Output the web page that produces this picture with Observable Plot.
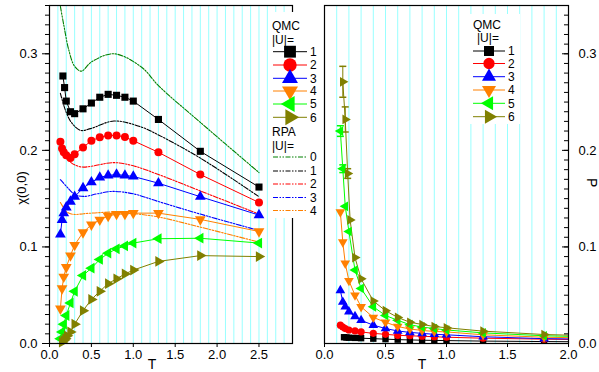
<!DOCTYPE html>
<html><head><meta charset="utf-8">
<script src="https://cdn.jsdelivr.net/npm/d3@7"></script>
<script src="https://cdn.jsdelivr.net/npm/@observablehq/plot@0.6"></script>
<style>
html,body{margin:0;padding:0;background:#fff;}
#wrap{position:relative;width:599px;height:372px;overflow:hidden;font-family:"Liberation Sans",Arial,sans-serif;}
#wrap > svg{position:absolute;top:0;}
</style></head><body><div id="wrap"></div>
<script>
// ---------------- data ----------------
const qmcU = [1, 2, 3, 4, 5, 6];
const qmcColors = ["#000000", "#ff0000", "#0000ff", "#ff8000", "#00ff00", "#808000"];
const rpaU = [0, 1, 2, 3, 4];
const rpaColors = ["#008000", "#000000", "#ff0000", "#0000ff", "#ff8000"];

const T_U1 = [0.16, 0.18, 0.2, 0.25, 0.3, 0.4, 0.5, 0.6, 0.7, 0.8, 0.9, 1.0, 1.3, 1.8, 2.5];
const T_U2to5 = [0.13, 0.15, 0.17, 0.2, 0.25, 0.3, 0.4, 0.5, 0.6, 0.7, 0.8, 0.9, 1.0, 1.3, 1.8, 2.5];
const T_U6 = [0.15, 0.17, 0.19, 0.21, 0.25, 0.3, 0.4, 0.5, 0.6, 0.7, 0.8, 0.9, 1.0, 1.3, 1.8, 2.5];

// left panel: chi(0,0), QMC
const chi_U1 = [0.277, 0.265, 0.251, 0.240, 0.238, 0.243, 0.249, 0.255, 0.258, 0.257, 0.255, 0.251, 0.232, 0.199, 0.162];
const chi_U2 = [0.209, 0.202, 0.198, 0.195, 0.192, 0.196, 0.203, 0.210, 0.2135, 0.2155, 0.2155, 0.2138, 0.210, 0.198, 0.175, 0.146];
const chi_U3 = [0.113, 0.128, 0.135, 0.141, 0.147, 0.152, 0.161, 0.167, 0.172, 0.174, 0.175, 0.174, 0.173, 0.166, 0.152, 0.133];
const chi_U4 = [0.036, 0.057, 0.069, 0.079, 0.091, 0.102, 0.115, 0.123, 0.128, 0.132, 0.134, 0.134, 0.135, 0.135, 0.1285, 0.116];
const chi_U5 = [0.005, 0.012, 0.020, 0.029, 0.042, 0.054, 0.0705, 0.078, 0.087, 0.0935, 0.098, 0.101, 0.104, 0.1085, 0.109, 0.104];
const chi_U6 = [0.0014, 0.003, 0.005, 0.008, 0.012, 0.020, 0.034, 0.0456, 0.054, 0.062, 0.067, 0.072, 0.076, 0.085, 0.091, 0.090];

// left panel: RPA curves
const rpaT_U0 = [0.13, 0.17, 0.23, 0.3, 0.38, 0.5, 0.77, 1.1, 1.3, 1.8, 2.5];
const rpa_U0  = [0.349, 0.33, 0.304, 0.287, 0.282, 0.2915, 0.300, 0.286, 0.267, 0.229, 0.177];
const rpaT_U1 = [0.13, 0.19, 0.26, 0.37, 0.49, 0.77, 1.1, 1.3, 1.8, 2.5];
const rpa_U1  = [0.259, 0.2415, 0.229, 0.2207, 0.2225, 0.2304, 0.224, 0.216, 0.192, 0.152];
const rpaT_U2 = [0.15, 0.22, 0.3, 0.39, 0.5, 0.77, 1.0, 1.3, 1.8, 2.5];
const rpa_U2  = [0.197, 0.19, 0.185, 0.1827, 0.1835, 0.1873, 0.184, 0.175, 0.158, 0.134];
const rpaT_U3 = [0.13, 0.21, 0.3, 0.41, 0.57, 0.75, 1.0, 1.3, 1.8, 2.5];
const rpa_U3  = [0.1696, 0.162, 0.1544, 0.1523, 0.155, 0.1575, 0.155, 0.147, 0.134, 0.117];
const rpaT_U4 = [0.13, 0.15, 0.21, 0.29, 0.41, 0.57, 0.77, 1.0, 1.3, 1.8, 2.5];
const rpa_U4  = [0.146, 0.143, 0.136, 0.1337, 0.1344, 0.1354, 0.136, 0.1345, 0.131, 0.1205, 0.105];

// right panel: QMC
const p_U1 = [0.0065, 0.0062, 0.006, 0.0058, 0.0055, 0.005, 0.0045, 0.004, 0.0037, 0.0034, 0.0032, 0.003, 0.0025, 0.002, 0.0015];
const p_U2 = [0.019, 0.017, 0.0155, 0.014, 0.013, 0.012, 0.0105, 0.0095, 0.0085, 0.008, 0.0075, 0.007, 0.0065, 0.0055, 0.0045, 0.0035];
const p_U3 = [0.055, 0.043, 0.038, 0.033, 0.028, 0.024, 0.019, 0.0155, 0.013, 0.0115, 0.0105, 0.0095, 0.009, 0.007, 0.005, 0.004];
const p_U4 = [0.136, 0.105, 0.083, 0.065, 0.050, 0.038, 0.027, 0.022, 0.0176, 0.015, 0.0135, 0.0125, 0.012, 0.009, 0.0065, 0.005];
const p_U5 = [0.220, 0.181, 0.142, 0.116, 0.076, 0.057, 0.038, 0.029, 0.024, 0.0195, 0.017, 0.0155, 0.014, 0.011, 0.008, 0.006];
const p_U6 = [0.271, 0.232, 0.176, 0.128, 0.089, 0.067, 0.044, 0.034, 0.027, 0.022, 0.0197, 0.0176, 0.0163, 0.0128, 0.0093, 0.007];
const errP_U5 = [0.0055, 0.004];
const errP_U6 = [0.016, 0.013, 0.005];

// ticks
const yMajor = [0, 0.1, 0.2, 0.3];
const yMinor = d3.range(0, 0.3501, 0.01);
const xMajorLeft = [0, 0.5, 1.0, 1.5, 2.0, 2.5];
const xMajorRight = [0, 0.5, 1.0, 1.5, 2.0];
const gridLeft = d3.range(1, 29).map(d => d / 10);
const gridRight = d3.range(1, 20).map(d => d / 10);

// ---------------- symbols ----------------
function tri(angleDeg) {
  return {draw(ctx, size) {
    const r = Math.sqrt(size / (3 * Math.sqrt(3) / 4));
    for (let i = 0; i < 3; i++) {
      const a = (angleDeg + i * 120) * Math.PI / 180;
      const x = r * Math.cos(a), y = r * Math.sin(a);
      if (i) ctx.lineTo(x, y); else ctx.moveTo(x, y);
    }
    ctx.closePath();
  }};
}
const capSym = {draw(ctx, size) { const w = Math.sqrt(size / Math.PI); ctx.moveTo(-w, 0); ctx.lineTo(w, 0); }};
const SYM = [d3.symbolSquare, d3.symbolCircle, tri(-90), tri(90), tri(180), tri(0)];
const dash = "5,1.5,1.5,1.5,1.5,1.5";

const rows = (T, v) => T.map((t, i) => ({T: t, v: v[i]}));
const leftQ = [rows(T_U1, chi_U1), rows(T_U2to5, chi_U2), rows(T_U2to5, chi_U3), rows(T_U2to5, chi_U4), rows(T_U2to5, chi_U5), rows(T_U6, chi_U6)];
const rightQ = [rows(T_U1, p_U1), rows(T_U2to5, p_U2), rows(T_U2to5, p_U3), rows(T_U2to5, p_U4), rows(T_U2to5, p_U5), rows(T_U6, p_U6)];
const rpaRows = [rows(rpaT_U0, rpa_U0), rows(rpaT_U1, rpa_U1), rows(rpaT_U2, rpa_U2), rows(rpaT_U3, rpa_U3), rows(rpaT_U4, rpa_U4)];
const errRows = (T, v, e) => e.map((d, i) => ({T: T[i], lo: v[i] - d, hi: v[i] + d}));
const errR = [errRows(T_U2to5, p_U5, errP_U5), errRows(T_U6, p_U6, errP_U6)];
const errC = ["#00ff00", "#808000"];

const style = {fontFamily: "'Liberation Sans', Arial, sans-serif", fontSize: "13px", background: "white", color: "black", overflow: "visible"};
const fmt = d3.format(".1f");

// ---------------- left panel ----------------
const leftMarks = [
  Plot.ruleX(gridLeft, {stroke: "#99ffff", strokeWidth: 1})
];
rpaRows.forEach((d, i) => leftMarks.push(Plot.line(d, {x: "T", y: "v", stroke: rpaColors[i], strokeWidth: 1.1, strokeDasharray: dash, curve: "catmull-rom"})));
leftQ.forEach((d, i) => {
  leftMarks.push(Plot.line(d, {x: "T", y: "v", stroke: qmcColors[i], strokeWidth: 1}));
  leftMarks.push(Plot.dot(d, {x: "T", y: "v", symbol: SYM[i], fill: qmcColors[i], stroke: "none", r: 4}));
});
leftMarks.push(
  Plot.frame({stroke: "#000", strokeWidth: 1.2}),
  Plot.axisY(yMajor, {tickSize: 7, tickPadding: 5, tickFormat: fmt, label: null}),
  Plot.axisY(yMinor, {tickSize: 4, fill: "none", stroke: "black", label: null}),
  Plot.axisX(xMajorLeft, {tickSize: 4, tickPadding: 2, tickFormat: fmt, label: null})
);
const left = Plot.plot({
  width: 300, height: 372, marginLeft: 49, marginRight: 8, marginTop: 5, marginBottom: 29,
  x: {domain: [0, 2.9]}, y: {domain: [0, 0.35]}, style, marks: leftMarks
});
left.style.left = "0px";
document.getElementById("wrap").appendChild(left);

// ---------------- right panel ----------------
const rightMarks = [
  Plot.ruleX(gridRight, {stroke: "#99ffff", strokeWidth: 1})
];
rightQ.forEach((d, i) => {
  rightMarks.push(Plot.line(d, {x: "T", y: "v", stroke: qmcColors[i], strokeWidth: 1, clip: true}));
});
errR.forEach((d, i) => {
  rightMarks.push(Plot.ruleX(d, {x: "T", y1: "lo", y2: "hi", stroke: errC[i], strokeWidth: 1}));
  rightMarks.push(Plot.dot(d, {x: "T", y: "lo", symbol: capSym, stroke: errC[i], r: 3.5}));
  rightMarks.push(Plot.dot(d, {x: "T", y: "hi", symbol: capSym, stroke: errC[i], r: 3.5}));
});
rightQ.forEach((d, i) => {
  rightMarks.push(Plot.dot(d, {x: "T", y: "v", symbol: SYM[i], fill: qmcColors[i], stroke: "none", r: 3.6, clip: true}));
});
rightMarks.push(
  Plot.frame({stroke: "#000", strokeWidth: 1.2}),
  Plot.axisY(yMajor, {anchor: "right", tickSize: 0, tickPadding: 10, tickFormat: fmt, label: null}),
  Plot.axisY(yMajor, {anchor: "left", frameAnchor: "right", tickSize: 6, fill: "none", stroke: "black", label: null}),
  Plot.axisY(yMinor, {anchor: "left", frameAnchor: "right", tickSize: 4, fill: "none", stroke: "black", label: null}),
  Plot.axisX(xMajorRight, {tickSize: 4, tickPadding: 2, tickFormat: fmt, label: null})
);
const right = Plot.plot({
  width: 299, height: 372, marginLeft: 24, marginRight: 31, marginTop: 5, marginBottom: 29,
  x: {domain: [0, 2]}, y: {domain: [0, 0.35]}, style, marks: rightMarks
});
right.style.left = "300px";
document.getElementById("wrap").appendChild(right);

// ---------------- overlay: legends and axis titles ----------------
const ov = d3.select("#wrap").append("svg")
  .attr("width", 599).attr("height", 372)
  .style("position", "absolute").style("left", "0px").style("top", "0px")
  .attr("font-family", "'Liberation Sans', Arial, sans-serif").attr("font-size", 12);

// left legend
ov.append("rect").attr("x", 269).attr("y", 12).attr("width", 50).attr("height", 206).attr("fill", "#fff");
ov.append("text").attr("x", 272).attr("y", 30).text("QMC");
ov.append("text").attr("x", 272).attr("y", 44).text("|U|=");
const lq = [51.7, 65, 78.3, 91, 104, 117.3];
qmcU.forEach((u, i) => {
  const y = lq[i];
  ov.append("line").attr("x1", 273).attr("x2", 307).attr("y1", y).attr("y2", y).attr("stroke", qmcColors[i]).attr("stroke-width", 1);
  ov.append("path").attr("d", d3.symbol().type(SYM[i]).size(i < 2 ? 140 : 110)()).attr("transform", `translate(290,${y})`).attr("fill", qmcColors[i]);
  ov.append("text").attr("x", 310).attr("y", y + 4.2).text(u);
});
ov.append("text").attr("x", 272).attr("y", 136).text("RPA");
ov.append("text").attr("x", 272).attr("y", 150).text("|U|=");
const lr = [157, 171, 184, 197.5, 210.5];
rpaU.forEach((u, i) => {
  const y = lr[i];
  ov.append("line").attr("x1", 273).attr("x2", 307).attr("y1", y).attr("y2", y).attr("stroke", rpaColors[i]).attr("stroke-width", 1.1).attr("stroke-dasharray", dash);
  ov.append("text").attr("x", 310).attr("y", y + 4.2).text(u);
});

// right legend
ov.append("rect").attr("x", 468).attr("y", 14).attr("width", 52).attr("height", 110).attr("fill", "#fff");
ov.append("text").attr("x", 473).attr("y", 29).text("QMC");
ov.append("text").attr("x", 477).attr("y", 42).text("|U|=");
const rq = [51, 63.5, 76.7, 90, 103.3, 116.7];
qmcU.forEach((u, i) => {
  const y = rq[i];
  ov.append("line").attr("x1", 473).attr("x2", 505).attr("y1", y).attr("y2", y).attr("stroke", qmcColors[i]).attr("stroke-width", 1);
  ov.append("path").attr("d", d3.symbol().type(SYM[i]).size(i < 2 ? 100 : 85)()).attr("transform", `translate(489,${y})`).attr("fill", qmcColors[i]);
  ov.append("text").attr("x", 508).attr("y", y + 4.2).text(u);
});

// axis titles
ov.append("text").attr("transform", "translate(26,188) rotate(-90)").attr("text-anchor", "middle").attr("font-size", 13).text("χ(0,0)");
ov.append("text").attr("x", 152).attr("y", 369).attr("text-anchor", "middle").attr("font-size", 14).text("T");
ov.append("text").attr("x", 422).attr("y", 369).attr("text-anchor", "middle").attr("font-size", 14).text("T");
ov.append("text").attr("transform", "translate(587,178) rotate(90)").attr("font-size", 14).text("P");
</script></body></html>
